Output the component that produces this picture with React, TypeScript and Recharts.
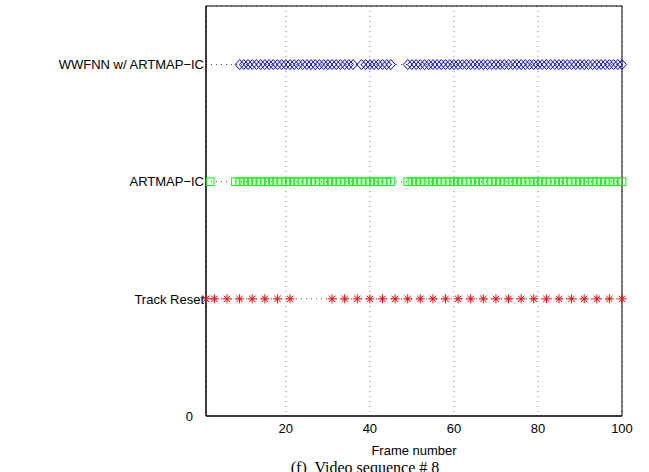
import React from 'react';
import { ScatterChart, Scatter, XAxis, YAxis, CartesianGrid, ReferenceArea } from 'recharts';

// row labels on the y axis (0 is the bottom tick)
const rowLabels = ['0', 'Track Reset', 'ARTMAP\u2212IC', 'WWFNN w/ ARTMAP\u2212IC'];
const xTicks = [20, 40, 60, 80, 100];
const yTicks = [0, 1, 2, 3];

// frames where each method fires
const wwfnnFrames = [
  9, 10, 11, 12, 13, 14, 15, 16, 17, 18, 19, 20, 21, 22, 23, 24, 25, 26, 27, 28, 29, 30, 31, 32, 33, 34, 35, 36,
  38, 39, 40, 41, 42, 43, 44, 45,
  49, 50, 51, 52, 53, 54, 55, 56, 57, 58, 59, 60, 61, 62, 63, 64, 65, 66, 67, 68, 69, 70, 71, 72, 73, 74,
  75, 76, 77, 78, 79, 80, 81, 82, 83, 84, 85, 86, 87, 88, 89, 90, 91, 92, 93, 94, 95, 96, 97, 98, 99, 100,
];
const artmapFrames = [
  2,
  8, 9, 10, 11, 12, 13, 14, 15, 16, 17, 18, 19, 20, 21, 22, 23, 24, 25, 26, 27, 28, 29, 30, 31, 32, 33, 34,
  35, 36, 37, 38, 39, 40, 41, 42, 43, 44, 45,
  49, 50, 51, 52, 53, 54, 55, 56, 57, 58, 59, 60, 61, 62, 63, 64, 65, 66, 67, 68, 69, 70, 71, 72, 73, 74,
  75, 76, 77, 78, 79, 80, 81, 82, 83, 84, 85, 86, 87, 88, 89, 90, 91, 92, 93, 94, 95, 96, 97, 98, 99, 100,
];
const resetFrames = [
  1, 3, 6, 9, 12, 15, 18, 21,
  31, 34, 37, 40, 43, 46, 49, 52, 55, 58, 61, 64, 67, 70, 73, 76, 79, 82, 85, 88, 91, 94, 97, 100,
];

const wwfnnData = wwfnnFrames.map(f => ({ frame: f, row: 3 }));
const artmapData = artmapFrames.map(f => ({ frame: f, row: 2 }));
const resetData = resetFrames.map(f => ({ frame: f, row: 1 }));

const font = '"Liberation Sans", Arial, Helvetica, sans-serif';

const Diamond = (props: any) => {
  const { cx, cy } = props;
  return (
    <path
      d={`M${cx - 4.5},${cy} L${cx},${cy - 5} L${cx + 4.5},${cy} L${cx},${cy + 5} Z`}
      fill="none" stroke="#0000ff" strokeWidth={1}
    />
  );
};

const Square = (props: any) => {
  const { cx, cy } = props;
  return <rect x={cx - 3.8} y={cy - 3.8} width={7.6} height={7.6} fill="none" stroke="#00ff00" strokeWidth={1} />;
};

const Star = (props: any) => {
  const { cx, cy } = props;
  const r = 4.5, d = 3.2;
  return (
    <path
      d={`M${cx - r},${cy} L${cx + r},${cy} M${cx},${cy - r} L${cx},${cy + r} M${cx - d},${cy - d} L${cx + d},${cy + d} M${cx - d},${cy + d} L${cx + d},${cy - d}`}
      stroke="#ff0000" strokeWidth={1} fill="none"
    />
  );
};

const RowTick = (props: any) => {
  const { x, y, payload } = props;
  const label = rowLabels[payload.value] ?? '';
  return (
    <text x={payload.value === 0 ? x - 11 : x} y={y} dy="0.36em" textAnchor="end"
      fontFamily={font} fontSize={13} fill="#000">
      {label}
    </text>
  );
};

export default function App() {
  return (
    <div style={{ position: 'absolute', left: 0, top: 0, width: 649, height: 472, background: '#fff', overflow: 'hidden' }}>
      <ScatterChart width={649} height={472} margin={{ top: 6, right: 27, left: 6, bottom: 0 }}>
        <CartesianGrid horizontal={false} stroke="#888" strokeDasharray="1 4" />
        <CartesianGrid vertical={false} stroke="#555" strokeDasharray="1 4" />
        <XAxis
          type="number" dataKey="frame" domain={[1, 100]} ticks={xTicks} height={56}
          tickLine={false} axisLine={{ stroke: '#000' }} tickMargin={2}
          tick={{ fill: '#000', fontFamily: font, fontSize: 13 }}
          label={{ value: 'Frame number', position: 'insideBottom', offset: 17, fill: '#000', fontFamily: font, fontSize: 13 }}
        />
        <YAxis
          type="number" dataKey="row" domain={[0, 3.5]} ticks={yTicks} width={200}
          tickLine={false} tickSize={0} tickMargin={2} axisLine={{ stroke: '#000' }}
          tick={<RowTick />}
        />
        <ReferenceArea x1={1} x2={100} y1={0} y2={3.5} fill="none" stroke="#000" strokeWidth={1} ifOverflow="visible" />
        <Scatter data={wwfnnData} shape={<Diamond />} isAnimationActive={false} />
        <Scatter data={artmapData} shape={<Square />} isAnimationActive={false} />
        <Scatter data={resetData} shape={<Star />} isAnimationActive={false} />
      </ScatterChart>
      <div style={{
        position: 'absolute', left: 215, top: 460, width: 300, textAlign: 'center',
        fontFamily: '"Liberation Serif", "Times New Roman", serif', fontSize: 16, lineHeight: '16px',
        whiteSpace: 'pre', color: '#000',
      }}>
        (f)  Video sequence # 8
      </div>
    </div>
  );
}
